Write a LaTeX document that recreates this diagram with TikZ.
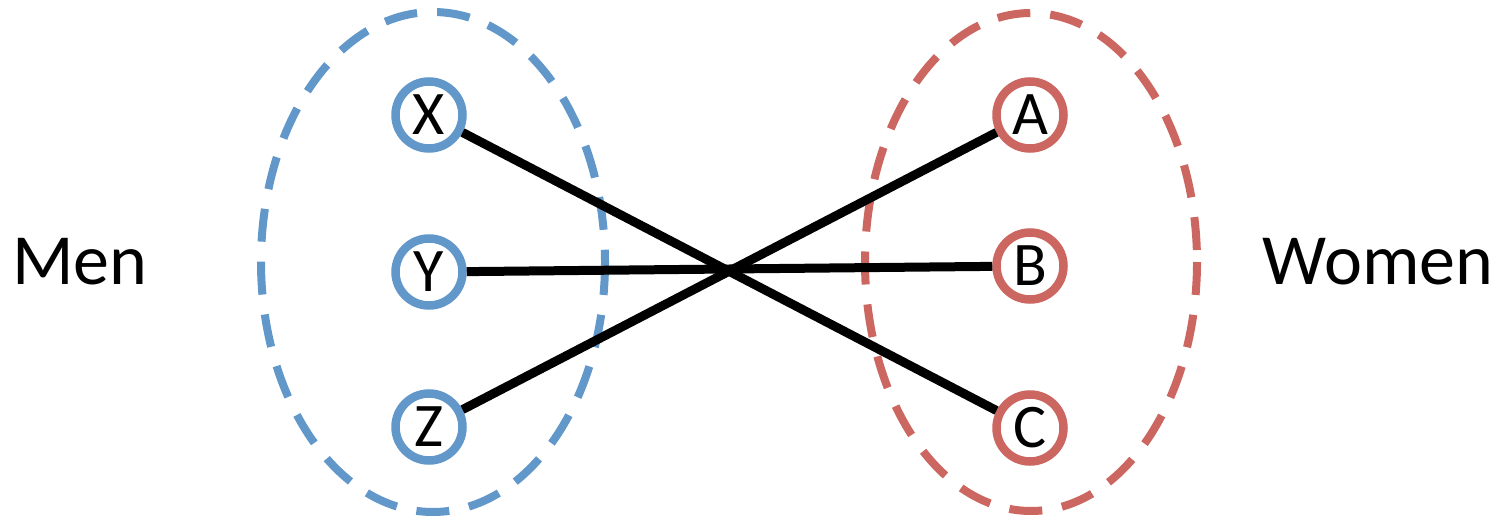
\documentclass[tikz,border=0pt]{standalone}
\usepackage{fontspec}
\setmainfont{Carlito}
\definecolor{menblue}{HTML}{6297CA}
\definecolor{womred}{HTML}{CC6660}
\begin{document}
\begin{tikzpicture}[x=1pt,y=-1pt,
  person/.style={circle, draw, line width=8.5pt, minimum size=67pt, inner sep=0pt, fill=white,
     font=\fontsize{62}{70}\selectfont},
  manc/.style={person, draw=menblue},
  womanc/.style={person, draw=womred},
  group/.style={line width=8pt, dash pattern=on 33pt off 20pt},
  link/.style={line width=9pt},
  label/.style={font=\fontsize{72}{80}\selectfont}]
\useasboundingbox (0,0) rectangle (1506,518);
\draw[group, draw=menblue] (433,262) ellipse [x radius=172, y radius=250];
\draw[group, draw=womred] (1031,262) ellipse [x radius=166, y radius=249];
\node[manc] (X) at (429,115) {X};
\node[manc] (Y) at (429,272) {Y};
\node[manc] (Z) at (429,427) {Z};
\node[womanc] (A) at (1030,115) {A};
\node[womanc] (B) at (1030,266) {B};
\node[womanc] (C) at (1030,428) {C};
\draw[link] (X) -- (C);
\draw[link] (Y) -- (B);
\draw[link] (Z) -- (A);
\node[label] (men) at (80,262) {Men};
\node[label] (women) at (1378,262) {Women};
\end{tikzpicture}
\end{document}
